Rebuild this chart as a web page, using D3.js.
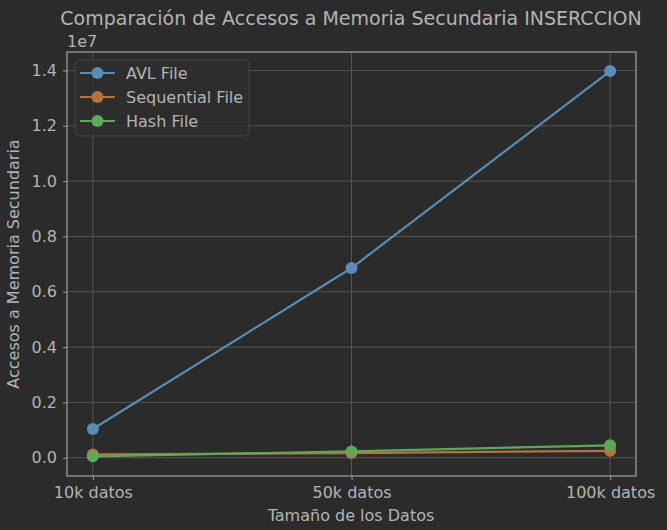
<!DOCTYPE html>
<html>
<head>
<meta charset="utf-8">
<script src="https://cdn.jsdelivr.net/npm/d3@7"></script>
<style>
  body { margin: 0; background: #2b2b2b; }
  svg { display: block; font-family: "DejaVu Sans", sans-serif; }
</style>
</head>
<body>
<svg id="chart" width="667" height="530"></svg>
<script>
var categories = ['10k datos', '50k datos', '100k datos'];
var seriesNames = ['AVL File', 'Sequential File', 'Hash File'];
var avlValues = [1040000, 6860000, 13980000];
var seqValues = [120000, 170000, 250000];
var hashValues = [50000, 230000, 450000];
var yTicks = [0, 2000000, 4000000, 6000000, 8000000, 10000000, 12000000, 14000000];
var colors = ['#5b8cb5', '#b5733f', '#5ea85e'];

var textColor = '#b4b4b4';
var svg = d3.select('#chart');
var mLeft = 67, mRight = 636, mTop = 52, mBottom = 476;

// build series table from the arrays
var series = [avlValues, seqValues, hashValues].map(function(vals, i) {
  return { name: seriesNames[i], color: colors[i],
    points: vals.map(function(v, j) { return { cat: j, value: v }; }) };
});

var x = d3.scaleLinear().domain([-0.1, 2.1]).range([mLeft, mRight]);
var y = d3.scaleLinear().domain([-660000, 14670000]).range([mBottom, mTop]);

svg.append('rect').attr('width', 667).attr('height', 530).attr('fill', '#2b2b2b');

// grid
var grid = svg.append('g');
grid.selectAll('.gx').data(categories).enter().append('line')
  .attr('x1', function(d, i) { return x(i); }).attr('x2', function(d, i) { return x(i); })
  .attr('y1', mTop).attr('y2', mBottom)
  .attr('stroke', '#555555').attr('stroke-width', 1);
grid.selectAll('.gy').data(yTicks).enter().append('line')
  .attr('x1', mLeft).attr('x2', mRight)
  .attr('y1', function(d) { return y(d); }).attr('y2', function(d) { return y(d); })
  .attr('stroke', '#555555').attr('stroke-width', 1);

// axes
var xAxis = d3.axisBottom(x).tickValues([0, 1, 2])
  .tickFormat(function(d) { return categories[d]; }).tickSize(4).tickPadding(7);
var yAxis = d3.axisLeft(y).tickValues(yTicks)
  .tickFormat(function(d) { return (d / 1e7).toFixed(1); }).tickSize(4).tickPadding(6);

var gx = svg.append('g').attr('transform', 'translate(0,' + mBottom + ')').call(xAxis);
var gy = svg.append('g').attr('transform', 'translate(' + mLeft + ',0)').call(yAxis);
[gx, gy].forEach(function(g) {
  g.select('.domain').remove();
  g.selectAll('line').attr('stroke', '#a0a0a0');
  g.selectAll('text').attr('fill', textColor).style('font-size', '16px')
    .style('font-family', '"DejaVu Sans", sans-serif');
});

svg.append('rect').attr('x', mLeft).attr('y', mTop)
  .attr('width', mRight - mLeft).attr('height', mBottom - mTop)
  .attr('fill', 'none').attr('stroke', '#a0a0a0').attr('stroke-width', 1.2);

// lines and markers
var line = d3.line().x(function(d) { return x(d.cat); }).y(function(d) { return y(d.value); });
series.forEach(function(s) {
  svg.append('path').datum(s.points).attr('d', line)
    .attr('fill', 'none').attr('stroke', s.color).attr('stroke-width', 2.2);
  svg.selectAll(null).data(s.points).enter().append('circle')
    .attr('cx', function(d) { return x(d.cat); }).attr('cy', function(d) { return y(d.value); })
    .attr('r', 6).attr('fill', s.color);
});

// texts
svg.append('text').attr('x', 351).attr('y', 25).attr('text-anchor', 'middle')
  .attr('fill', textColor).style('font-size', '19px')
  .text('Comparación de Accesos a Memoria Secundaria INSERCCION');
svg.append('text').attr('x', mLeft).attr('y', 47)
  .attr('fill', textColor).style('font-size', '16px').text('1e7');
svg.append('text').attr('x', 351).attr('y', 521).attr('text-anchor', 'middle')
  .attr('fill', textColor).style('font-size', '16px').text('Tamaño de los Datos');
svg.append('text').attr('transform', 'translate(19,264) rotate(-90)').attr('text-anchor', 'middle')
  .attr('fill', textColor).style('font-size', '16px').text('Accesos a Memoria Secundaria');

// legend
var lg = svg.append('g');
lg.append('rect').attr('x', 75).attr('y', 60).attr('width', 174).attr('height', 76).attr('rx', 4)
  .attr('fill', '#2e2e2e').attr('fill-opacity', 0.85).attr('stroke', '#444444');
series.forEach(function(s, i) {
  var yy = 73 + i * 24;
  lg.append('line').attr('x1', 80).attr('x2', 115).attr('y1', yy).attr('y2', yy)
    .attr('stroke', s.color).attr('stroke-width', 2.2);
  lg.append('circle').attr('cx', 97.5).attr('cy', yy).attr('r', 6).attr('fill', s.color);
  lg.append('text').attr('x', 126).attr('y', yy + 5.5).attr('fill', textColor)
    .style('font-size', '16px').text(s.name);
});
</script>
</body>
</html>
